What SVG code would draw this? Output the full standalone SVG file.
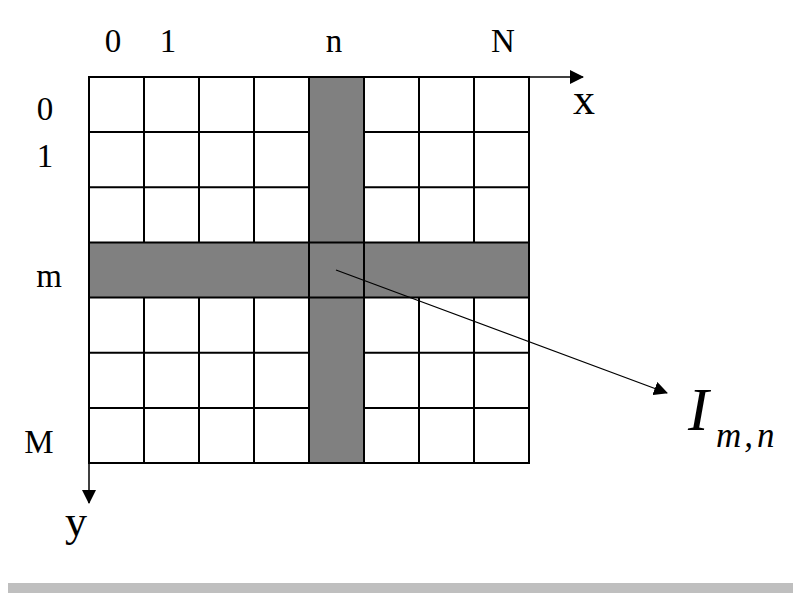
<svg xmlns="http://www.w3.org/2000/svg" width="793" height="593" viewBox="0 0 793 593">
<style>
.cell{fill:#fff;stroke:#000;stroke-width:2}
.shade{fill:#808080;stroke:none}
.ln{stroke:#000;stroke-width:2;fill:none}
.lbl{font-family:"Liberation Serif","Times New Roman",serif;font-size:33px;fill:#000;text-anchor:middle}
.ax{font-family:"Liberation Serif","Times New Roman",serif;font-size:44px;fill:#000;text-anchor:middle}
.it{font-family:"Liberation Serif","Times New Roman",serif;font-style:italic;fill:#000}
</style>
<defs>
<marker id="ah" markerWidth="14" markerHeight="14" refX="13" refY="7" orient="auto" markerUnits="userSpaceOnUse">
<path d="M0,0 L14,7 L0,14 Z" fill="#000"/>
</marker>
</defs>
<rect width="793" height="593" fill="#fff"/>
<g id="grid">
<rect x="89" y="77" width="440" height="386" fill="#fff"/>
<rect class="shade" x="309" y="77" width="55" height="386"/>
<rect class="shade" x="89" y="242.4" width="440" height="55.2"/>
<g class="ln">
<path d="M144,77V242.4M144,297.6V463M199,77V242.4M199,297.6V463M254,77V242.4M254,297.6V463M419,77V242.4M419,297.6V463M474,77V242.4M474,297.6V463"/>
<path d="M89,132.1H309M364,132.1H529M89,187.3H309M364,187.3H529M89,352.7H309M364,352.7H529M89,407.9H309M364,407.9H529"/>
<path d="M309,77V463M364,77V463M89,242.4H529M89,297.6H529"/>
<rect x="89" y="77" width="440" height="386"/>
</g>
</g>
<g id="axes">
<line x1="529" y1="77" x2="583" y2="77" stroke="#000" stroke-width="1.5" marker-end="url(#ah)"/>
<line x1="89" y1="463" x2="89" y2="503" stroke="#000" stroke-width="1.5" marker-end="url(#ah)"/>
</g>
<g id="labels">
<text class="lbl" x="113" y="52">0</text>
<text class="lbl" x="168" y="52">1</text>
<text class="lbl" x="334" y="52">n</text>
<text class="lbl" x="503" y="52">N</text>
<text class="lbl" x="45" y="120">0</text>
<text class="lbl" x="45" y="167">1</text>
<text class="lbl" x="49" y="287">m</text>
<text class="lbl" x="39" y="453">M</text>
<text class="ax" x="584" y="114">x</text>
<text class="ax" x="76" y="536">y</text>
</g>
<g id="connectors">
<line x1="336" y1="270" x2="667" y2="393" stroke="#000" stroke-width="1.3" marker-end="url(#ah)"/>
</g>
<g id="label-I">
<text class="it" x="688" y="430" font-size="62">I</text>
<text class="it" x="716" y="447" font-size="35">m<tspan dx="3">,</tspan><tspan dx="4">n</tspan></text>
</g>
<rect x="8" y="583" width="785" height="10" fill="#bfbfbf"/>
</svg>
